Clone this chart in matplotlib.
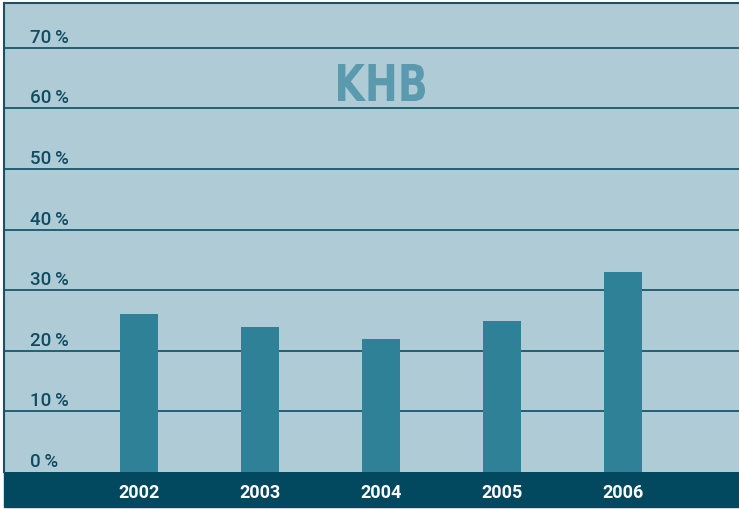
import numpy as np
import matplotlib.pyplot as plt
from matplotlib.patches import Rectangle, PathPatch
from matplotlib.textpath import TextPath
from matplotlib.font_manager import FontProperties
import matplotlib.transforms as mtransforms

years = ['2002', '2003', '2004', '2005', '2006']
values = [26, 24, 22, 25, 33]
yticks = [0, 10, 20, 30, 40, 50, 60, 70]
title = 'KHB'

bg = '#aecbd6'
bar_color = '#2e8197'
grid_color = '#18576d'
band_color = '#02485f'
label_color = '#0f4c62'
font = ['Roboto', 'DejaVu Sans']

fig = plt.figure(figsize=(7.39, 5.10), dpi=100)
W, H = 739, 510
ax = fig.add_axes([4 / W, 37 / H, 735 / W, 469 / H])
ax.set_facecolor(bg)

x = np.arange(len(years))
ax.bar(x, values, width=0.314, color=bar_color, zorder=3)

ax.set_xlim(-1.116, 4.96)
ax.set_ylim(0, 77.4)

for v in yticks[1:]:
    ax.axhline(v, color=grid_color, lw=1.3, zorder=2)

trans = mtransforms.blended_transform_factory(ax.transAxes, ax.transData)
for v in yticks:
    ax.text(26 / 735, v + 0.35, f'{v}\u2009%', transform=trans, ha='left',
            va='bottom', fontsize=13.5, color=label_color,
            fontweight='medium', family=font)

ax.set_yticks([])
ax.set_xticks(x)
ax.set_xticklabels(years, color='white', fontsize=13, fontweight='bold',
                   family=font)
ax.tick_params(axis='x', length=0, pad=8)

for side in ['right', 'bottom']:
    ax.spines[side].set_visible(False)
for side in ['left', 'top']:
    ax.spines[side].set_color('#1f4f60')
    ax.spines[side].set_linewidth(1.5)

# condensed bold title, squeezed to the width seen in the original
tp = TextPath((0, 0), title, size=50,
              prop=FontProperties(family='DejaVu Sans', weight='bold'))
bb = tp.get_extents()
sx = 87 / bb.width
sy = 37 / bb.height
tr = (mtransforms.Affine2D().translate(-bb.x0, -bb.y0).scale(sx, sy)
      .translate(338, H - 102))
fig.patches.append(PathPatch(tr.transform_path(tp), color='#5a99ae',
                             lw=0, transform=mtransforms.IdentityTransform(),
                             zorder=5))

fig.patches.append(Rectangle((4 / W, 2 / H), 735 / W, 35 / H,
                             transform=fig.transFigure, color=band_color,
                             zorder=-1))

fig.savefig('out.png', dpi=100)
